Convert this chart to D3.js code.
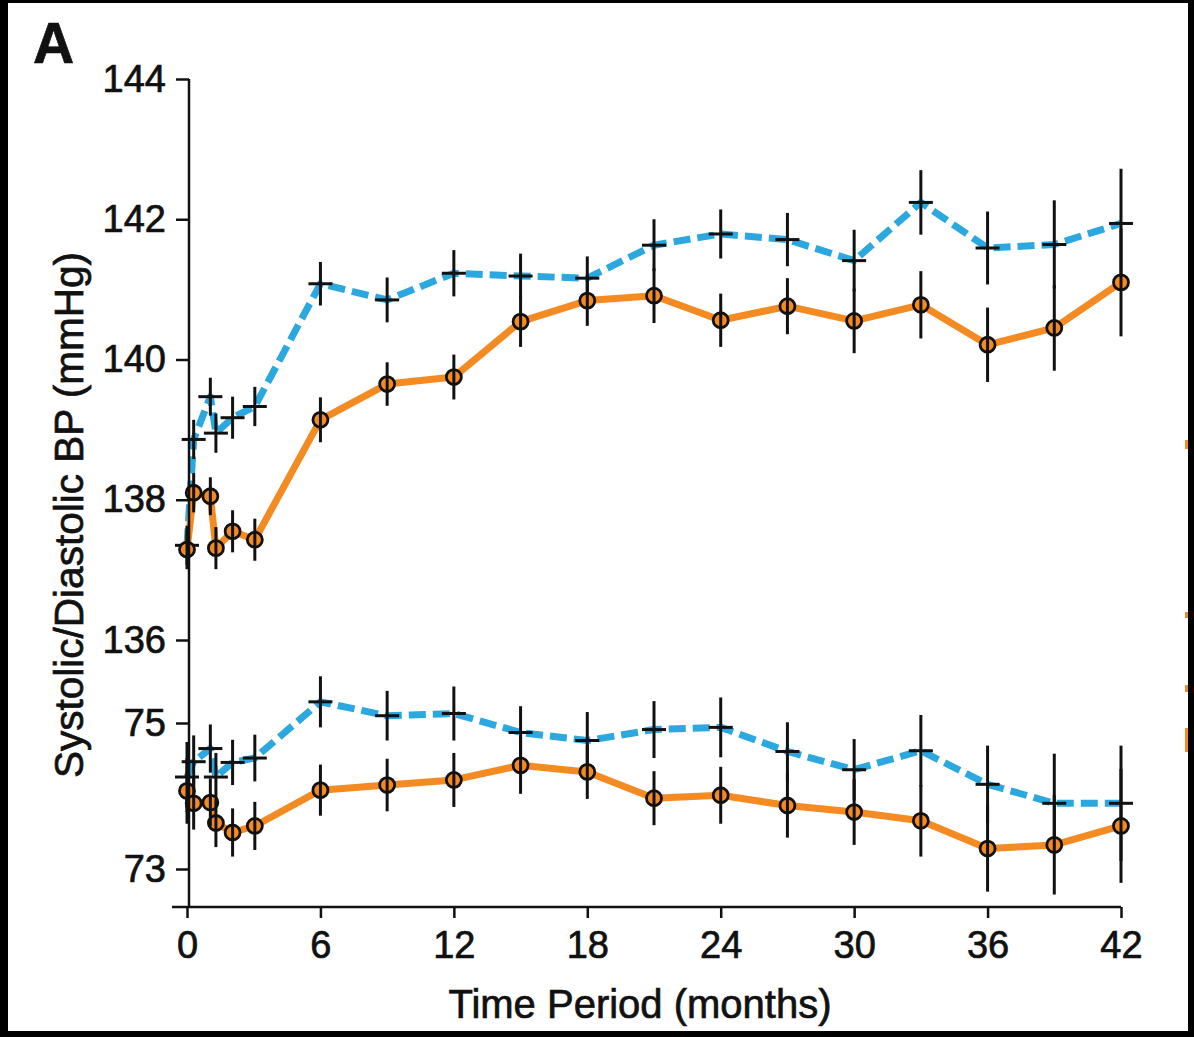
<!DOCTYPE html>
<html>
<head>
<meta charset="utf-8">
<script src="https://cdn.jsdelivr.net/npm/d3@7"></script>
<style>
  html, body { margin: 0; padding: 0; background: #000; overflow: hidden; }
  text { font-family: "Liberation Sans", Arial, sans-serif; fill: #111; stroke: #111; stroke-width: 0.7px; }
</style>
</head>
<body>
<svg id="chart" width="1194" height="1037"></svg>
<script>
/* global d3 */
// time points (months)
const months = [0, 0.3, 1.05, 1.3, 2.05, 3.05, 6, 9, 12, 15, 18, 21, 24, 27, 30, 33, 36, 39, 42];

// systolic BP, mmHg
const sysBlue = [137.35, 138.86, 139.47, 138.95, 139.17, 139.33, 141.08, 140.85, 141.23, 141.19, 141.16, 141.63, 141.79, 141.71, 141.41, 142.24, 141.59, 141.64, 141.94];
const sysBlueErr = [0.28, 0.28, 0.27, 0.28, 0.30, 0.28, 0.31, 0.32, 0.33, 0.32, 0.31, 0.37, 0.35, 0.38, 0.44, 0.46, 0.52, 0.63, 0.78];
const sysOrange = [137.29, 138.10, 138.05, 137.31, 137.55, 137.43, 139.14, 139.65, 139.75, 140.54, 140.84, 140.91, 140.56, 140.76, 140.55, 140.78, 140.21, 140.45, 141.10];
const sysOrangeErr = [0.28, 0.28, 0.27, 0.30, 0.30, 0.30, 0.32, 0.31, 0.32, 0.36, 0.36, 0.39, 0.38, 0.40, 0.46, 0.48, 0.53, 0.61, 0.77];

// diastolic BP, mmHg
const diaBlue = [74.26, 74.47, 74.65, 74.26, 74.46, 74.52, 75.29, 75.10, 75.13, 74.87, 74.76, 74.91, 74.94, 74.61, 74.36, 74.62, 74.16, 73.90, 73.90];
const diaBlueErr = [0.48, 0.36, 0.33, 0.33, 0.31, 0.32, 0.35, 0.34, 0.37, 0.36, 0.39, 0.39, 0.41, 0.40, 0.42, 0.49, 0.53, 0.68, 0.79];
const diaOrange = [74.07, 73.90, 73.91, 73.63, 73.50, 73.59, 74.08, 74.15, 74.22, 74.42, 74.33, 73.97, 74.01, 73.87, 73.78, 73.66, 73.28, 73.33, 73.59];
const diaOrangeErr = [0.45, 0.36, 0.33, 0.33, 0.33, 0.33, 0.35, 0.36, 0.37, 0.39, 0.37, 0.37, 0.39, 0.44, 0.45, 0.49, 0.59, 0.68, 0.78];

const xTicks = [0, 6, 12, 18, 24, 30, 36, 42];
const sysTicks = [136, 138, 140, 142, 144];
const diaTicks = [73, 75];

const BLUE = '#2aa8df';
const ORANGE = '#f48a22';

const svg = d3.select('#chart');

// white panel inside the black frame
svg.append('rect').attr('x', 8).attr('y', 3).attr('width', 1180).attr('height', 1028).attr('fill', '#fff');

// scraps of the neighbouring panel at the right edge
[[440, 9], [612, 6], [685, 7], [728, 24]].forEach(([y, h]) => {
  svg.append('rect').attr('x', 1185).attr('y', y).attr('width', 3).attr('height', h).attr('fill', ORANGE);
});

const x = d3.scaleLinear().domain([0, 42]).range([187, 1121]);
const ySys = d3.scaleLinear().domain([136, 144]).range([640, 79]);
const yDia = d3.scaleLinear().domain([73, 75]).range([869, 723]);
const AXIS_X = 189;
const AXIS_Y = 907;

const makeSeries = (vals, errs) => months.map((m, i) => ({ m, v: vals[i], e: errs[i] }));

const groups = [
  { scale: ySys, data: makeSeries(sysBlue, sysBlueErr), kind: 'blue' },
  { scale: ySys, data: makeSeries(sysOrange, sysOrangeErr), kind: 'orange' },
  { scale: yDia, data: makeSeries(diaBlue, diaBlueErr), kind: 'blue' },
  { scale: yDia, data: makeSeries(diaOrange, diaOrangeErr), kind: 'orange' },
];

// lines
groups.forEach((g) => {
  const line = d3.line().x((d) => x(d.m)).y((d) => g.scale(d.v));
  svg.append('path')
    .datum(g.data)
    .attr('d', line)
    .attr('fill', 'none')
    .attr('stroke', g.kind === 'blue' ? BLUE : ORANGE)
    .attr('stroke-width', 7)
    .attr('stroke-dasharray', g.kind === 'blue' ? '17 7' : null)
    .attr('stroke-linejoin', 'round');
});

// error bars + markers
groups.forEach((g) => {
  const mk = svg.append('g').attr('stroke', '#111').attr('fill', 'none');
  if (g.kind === 'orange') {
    mk.selectAll('circle')
      .data(g.data)
      .enter()
      .append('circle')
      .attr('cx', (d) => x(d.m))
      .attr('cy', (d) => g.scale(d.v))
      .attr('r', 7.5)
      .attr('fill', ORANGE)
      .attr('stroke-width', 2.8);
  }
  mk.selectAll('line.err')
    .data(g.data)
    .enter()
    .append('line')
    .attr('class', 'err')
    .attr('x1', (d) => x(d.m))
    .attr('x2', (d) => x(d.m))
    .attr('y1', (d) => g.scale(d.v - d.e))
    .attr('y2', (d) => g.scale(d.v + d.e))
    .attr('stroke-width', 3);
  if (g.kind === 'blue') {
    mk.selectAll('line.pt')
      .data(g.data)
      .enter()
      .append('line')
      .attr('class', 'pt')
      .attr('x1', (d) => x(d.m) - 12)
      .attr('x2', (d) => x(d.m) + 12)
      .attr('y1', (d) => g.scale(d.v))
      .attr('y2', (d) => g.scale(d.v))
      .attr('stroke-width', 3);
  }
});

// axes
const styleAxis = (sel) => {
  sel.select('.domain').remove();
  sel.selectAll('.tick line').attr('stroke', '#111').attr('stroke-width', 2.5);
  sel.selectAll('.tick text')
    .attr('fill', '#111')
    .style('font-size', '38px')
    .style('font-family', '"Liberation Sans", Arial, sans-serif');
};

svg.append('g')
  .attr('transform', `translate(${AXIS_X},0)`)
  .call(d3.axisLeft(ySys).tickValues(sysTicks).tickFormat(d3.format('d')).tickSize(13).tickPadding(10))
  .call(styleAxis);

svg.append('g')
  .attr('transform', `translate(${AXIS_X},0)`)
  .call(d3.axisLeft(yDia).tickValues(diaTicks).tickFormat(d3.format('d')).tickSize(13).tickPadding(10))
  .call(styleAxis);

svg.append('g')
  .attr('transform', `translate(0,${AXIS_Y})`)
  .call(d3.axisBottom(x).tickValues(xTicks).tickFormat(d3.format('d')).tickSize(11).tickPadding(13))
  .call(styleAxis);

svg.append('line')
  .attr('x1', AXIS_X).attr('x2', AXIS_X)
  .attr('y1', ySys(144)).attr('y2', AXIS_Y)
  .attr('stroke', '#111').attr('stroke-width', 2.5);

svg.append('line')
  .attr('x1', 172).attr('x2', x(42))
  .attr('y1', AXIS_Y).attr('y2', AXIS_Y)
  .attr('stroke', '#111').attr('stroke-width', 2.5);

// titles
svg.append('text')
  .attr('x', 640).attr('y', 1018)
  .attr('text-anchor', 'middle')
  .style('font-size', '40px')
  .text('Time Period (months)');

svg.append('text')
  .attr('transform', 'translate(83,515) rotate(-90)')
  .attr('text-anchor', 'middle')
  .style('font-size', '40.5px')
  .text('Systolic/Diastolic BP (mmHg)');

svg.append('text')
  .attr('x', 33).attr('y', 63)
  .style('font-size', '57px')
  .style('font-weight', 'bold')
  .text('A');
</script>
</body>
</html>
